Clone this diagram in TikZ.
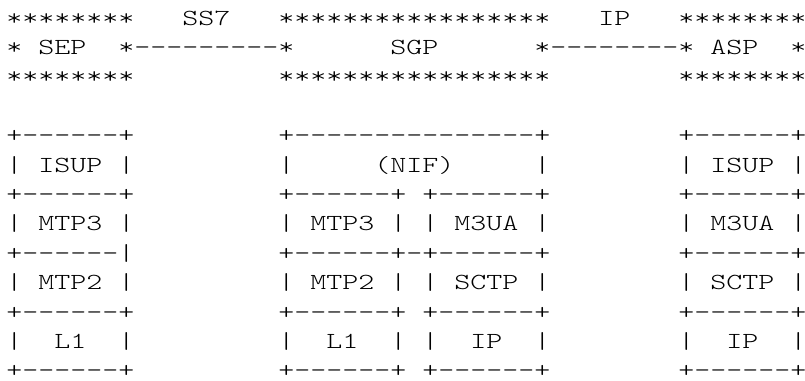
\documentclass[tikz,border=0pt]{standalone}
\usepackage{fontspec}
\usepackage{graphicx}
\setmonofont{Latin Modern Mono Light}
\usetikzlibrary{positioning}

\newcommand{\asciitext}[1]{\scalebox{1.325}[1]{\ttfamily\fontsize{11.5}{11.5}\selectfont #1}}

\begin{document}
\begin{tikzpicture}[x=0.5pt, y=0.5pt, asciirow/.style={anchor=base west, inner sep=0pt, text=black}]
			\useasboundingbox (0,0) rectangle (805,-381);
			\node[asciirow] (row-1) at (6, -25.1) {\asciitext{********~~~SS7~~~*****************~~~IP~~~********}};
			\node[asciirow] (row-2) at (6, -54.5) {\asciitext{*~SEP~~*---------*~~~~~~SGP~~~~~~*--------*~ASP~~*}};
			\node[asciirow] (row-3) at (6, -83.9) {\asciitext{********~~~~~~~~~*****************~~~~~~~~********}};
			\node[asciirow] (row-5) at (6, -142.7) {\asciitext{+------+~~~~~~~~~+---------------+~~~~~~~~+------+}};
			\node[asciirow] (row-6) at (6, -172.1) {\asciitext{|~ISUP~|~~~~~~~~~|~~~~~(NIF)~~~~~|~~~~~~~~|~ISUP~|}};
			\node[asciirow] (row-7) at (6, -201.5) {\asciitext{+------+~~~~~~~~~+------+~+------+~~~~~~~~+------+}};
			\node[asciirow] (row-8) at (6, -230.9) {\asciitext{|~MTP3~|~~~~~~~~~|~MTP3~|~|~M3UA~|~~~~~~~~|~M3UA~|}};
			\node[asciirow] (row-9) at (6, -260.3) {\asciitext{+------|~~~~~~~~~+------+-+------+~~~~~~~~+------+}};
			\node[asciirow] (row-10) at (6, -289.7) {\asciitext{|~MTP2~|~~~~~~~~~|~MTP2~|~|~SCTP~|~~~~~~~~|~SCTP~|}};
			\node[asciirow] (row-11) at (6, -319.1) {\asciitext{+------+~~~~~~~~~+------+~+------+~~~~~~~~+------+}};
			\node[asciirow] (row-12) at (6, -348.5) {\asciitext{|~~L1~~|~~~~~~~~~|~~L1~~|~|~~IP~~|~~~~~~~~|~~IP~~|}};
			\node[asciirow] (row-13) at (6, -377.9) {\asciitext{+------+~~~~~~~~~+------+~+------+~~~~~~~~+------+}};
		\end{tikzpicture}
\end{document}
